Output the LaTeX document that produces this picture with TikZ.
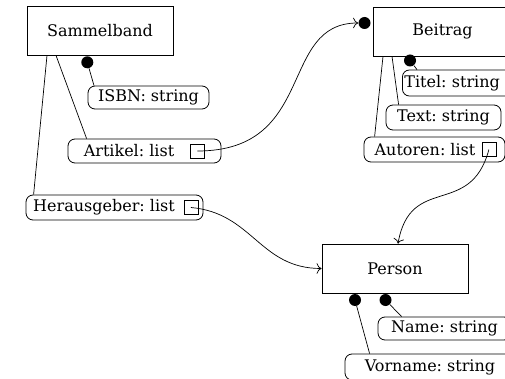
\documentclass[tikz,border=0pt]{standalone}
\usepackage{fontspec}
\setmainfont{DejaVu Serif}
\usetikzlibrary{arrows.meta}
\frenchspacing

\tikzset{
  entity/.style={draw, line width=0.8pt, minimum width=146pt, minimum height=49pt, inner sep=2pt},
  attr/.style={draw, line width=0.8pt, rounded corners=7pt, minimum height=24pt, inner xsep=2pt, inner ysep=1pt},
  listsq/.style={draw, line width=0.7pt, minimum size=14pt, inner sep=0pt},
  dot/.style={circle, fill=black, inner sep=0pt, minimum size=12pt},
}

\begin{document}
\begin{tikzpicture}[x=1pt, y=-1pt, line width=0.7pt, >={To[scale=1.6]}, font=\fontsize{16}{19}\selectfont]
    \useasboundingbox (0,0) rectangle (505,379);

    % 实体
    \node[entity] (sb) at (100,30.5) {Sammelband};
    \node[entity, minimum width=139pt] (bt) at (442.5,31.5) {Beitrag};
    \node[entity] (ps) at (395,268.5) {Person};

    % Sammelband 的属性
    \node[attr, minimum width=121pt, minimum height=23pt] (isbn) at (148.5,97.5) {ISBN: string};
    \node[attr, minimum width=153pt] (art) at (144.5,151) {Artikel: list\hspace*{31pt}};
    \node[listsq] (artsq) at ([xshift=-24pt]art.east) {};
    \node[attr, minimum width=177pt, minimum height=25pt] (her) at (114.5,207.5) {Herausgeber: list\hspace*{21pt}};
    \node[listsq] (hersq) at ([xshift=-12.5pt]her.east) {};

    % Beitrag 的属性
    \node[attr, anchor=west, text width=112pt, inner xsep=2pt, minimum height=26pt] (titel) at (402,83) {Titel: string};
    \node[attr, minimum width=115pt, minimum height=25pt] (text) at (443.5,117.5) {Text: string};
    \node[attr, minimum width=141pt, minimum height=25pt] (aut) at (434.5,149.5) {Autoren: list\hspace*{19pt}};
    \node[listsq] (autsq) at ([xshift=-16.5pt]aut.east) {};

    % Person 的属性
    \node[attr, minimum width=133pt, minimum height=23pt] (name) at (444.5,328.5) {Name: string};
    \node[attr, minimum width=170pt, minimum height=26pt] (vor) at (430,367) {Vorname: string};

    % 键标记
    \node[dot] (isbndot) at (87.3,62.3) {};
    \node[dot] (btdot) at (364.5,23) {};
    \node[dot] (titeldot) at (410,60.5) {};
    \node[dot] (vordot) at (355,300) {};
    \node[dot] (namedot) at (385.5,300) {};

    % 实体与属性的连线
    \draw ([xshift=-53pt]sb.south) -- ([xshift=8pt]her.north west);
    \draw ([xshift=-44pt]sb.south) -- ([xshift=19pt]art.north west);
    \draw (isbndot) -- ([xshift=-54.5pt]isbn.north);
    \draw ([xshift=-59.5pt]bt.south) -- ([xshift=11pt]aut.north west);
    \draw ([xshift=-50.5pt]bt.south) -- ([xshift=13pt]text.north west);
    \draw (titeldot) -- ([xshift=15pt]titel.north west);
    \draw (vordot) -- ([xshift=25pt]vor.north west);
    \draw (namedot) -- ([xshift=24pt]name.north west);

    % 引用
    \draw[->] (artsq.center) to[out=0, in=180, out distance=120pt, in distance=80pt] (btdot.west);
    \draw[->] (hersq.center) to[out=-5, in=180, looseness=1.1] (ps.west);
    \draw[->] (autsq.center) to[out=-105, in=80, looseness=1.4] ([xshift=3pt]ps.north);

\end{tikzpicture}
\end{document}
